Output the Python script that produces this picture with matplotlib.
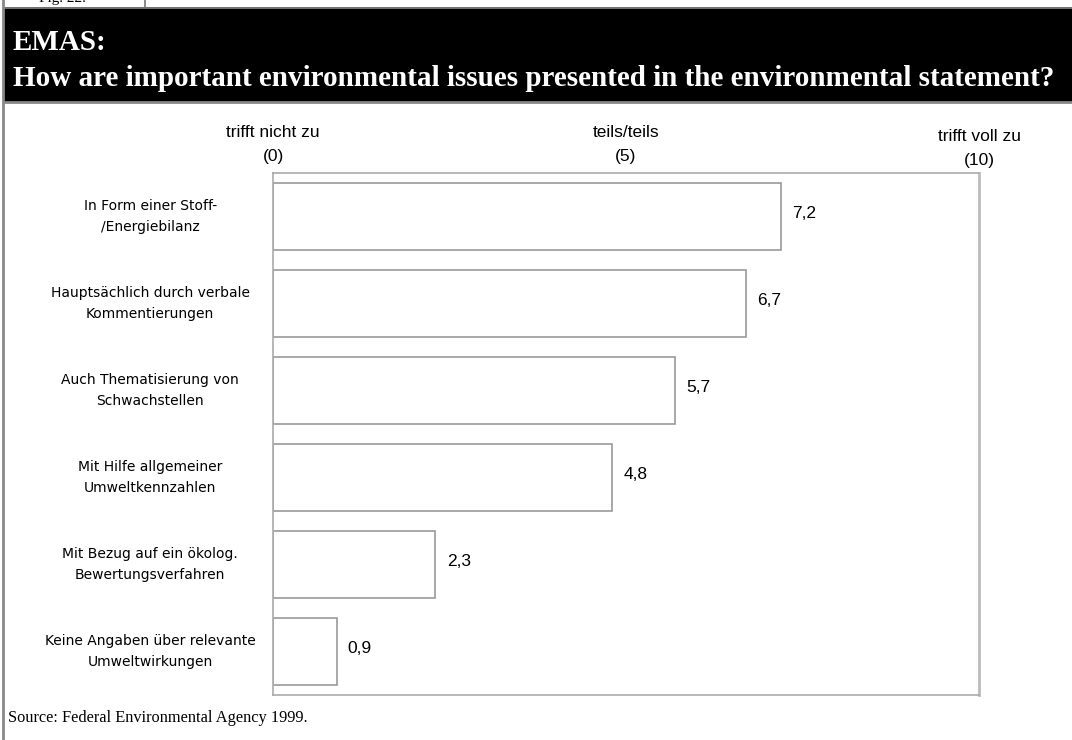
import matplotlib.pyplot as plt
from matplotlib.patches import Rectangle
from matplotlib.lines import Line2D

categories = [
    "In Form einer Stoff-\n/Energiebilanz",
    "Hauptsächlich durch verbale\nKommentierungen",
    "Auch Thematisierung von\nSchwachstellen",
    "Mit Hilfe allgemeiner\nUmweltkennzahlen",
    "Mit Bezug auf ein ökolog.\nBewertungsverfahren",
    "Keine Angaben über relevante\nUmweltwirkungen",
]
values = [7.2, 6.7, 5.7, 4.8, 2.3, 0.9]
value_labels = ["7,2", "6,7", "5,7", "4,8", "2,3", "0,9"]
scale_ticks = [0, 5, 10]
scale_labels = ["trifft nicht zu\n(0)", "teils/teils\n(5)", "trifft voll zu\n(10)"]

W, H = 1072, 740
fig = plt.figure(figsize=(W / 100, H / 100), dpi=100)
fig.patch.set_facecolor("white")

def fx(px):
    return px / W

def fy(py):
    return 1 - py / H

# header: small figure tab cut at the top, then black title band
fig.text(fx(62), fy(5), "Fig. 22.", fontsize=11, family="Liberation Serif",
         ha="center", va="bottom", zorder=1)
fig.add_artist(Line2D([fx(145), fx(145)], [fy(0), fy(8)], color="#777777", lw=1.2))
fig.add_artist(Rectangle((fx(4), fy(102)), fx(W) - fx(4), fy(7) - fy(102),
                         facecolor="black", edgecolor="none", zorder=3))
fig.add_artist(Line2D([fx(4), 1], [fy(8), fy(8)], color="#888888", lw=1.2, zorder=4))
fig.add_artist(Line2D([fx(4), 1], [fy(102), fy(102)], color="#888888", lw=2, zorder=4))
fig.add_artist(Line2D([fx(3), fx(3)], [0, 1], color="#888888", lw=2, zorder=4))
fig.text(fx(13), fy(42), "EMAS:", color="white", fontsize=21, fontweight="bold",
         family="Liberation Serif", va="center", zorder=5)
fig.text(fx(13), fy(78),
         "How are important environmental issues presented in the environmental statement?",
         color="white", fontsize=21, fontweight="bold", family="Liberation Serif",
         va="center", zorder=5)

# bar chart area
ax = fig.add_axes([fx(273), fy(695), fx(979) - fx(273), fy(173) - fy(695)])
y = list(range(len(values)))
ax.barh(y, values, height=0.78, color="white", edgecolor="#999999", linewidth=1.2)
ax.set_xlim(0, 10)
ax.set_ylim(len(values) - 0.5, -0.5)
for s in ax.spines.values():
    s.set_color("#aaaaaa")
    s.set_linewidth(1.2)
ax.spines["right"].set_color("#bbbbbb")
ax.spines["right"].set_linewidth(2)

ax.set_yticks([])
ax.set_xticks([])
for yi, lab in zip(y, categories):
    ax.text(-1.74, yi, lab, fontsize=10, family="DejaVu Sans",
            ha="center", va="center", linespacing=1.55)

for yi, v, lab in zip(y, values, value_labels):
    ax.text(v + 0.16, yi - 0.03, lab, fontsize=12.5, family="Liberation Sans",
            va="center", ha="left")

for t, lab in zip(scale_ticks, scale_labels):
    off = -0.56 if t == 10 else -0.6
    ax.text(t, off, lab, fontsize=12.5, family="Liberation Sans",
            ha="center", va="bottom", linespacing=1.75)

fig.text(fx(8), fy(718), "Source: Federal Environmental Agency 1999.",
         fontsize=11.8, family="Liberation Serif", va="center")

fig.savefig("out.png", dpi=100)
